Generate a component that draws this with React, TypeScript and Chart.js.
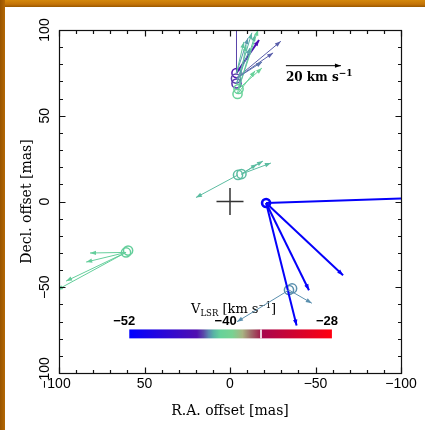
import React, { useEffect, useRef } from "react";
import { Chart, registerables } from "chart.js";

Chart.register(...registerables);

// ---------- axes ----------
const AXIS_MIN = -100;
const AXIS_MAX = 100;
const MAJOR_TICKS = [-100, -50, 0, 50, 100];
const MINOR_TICKS = [-90, -80, -70, -60, -40, -30, -20, -10, 10, 20, 30, 40, 60, 70, 80, 90];
const X_TITLE = "R.A. offset [mas]";
const Y_TITLE = "Decl. offset [mas]";

// ---------- reference position (cross) ----------
const REF_RA = [0];
const REF_DEC = [0];

// ---------- maser spots (mas, km/s) ----------
const SPOT_RA = [-21.1, -34.5, -36.3, -4.7, -6.7, 60.8, 59.6, -3.8, -3.5, -3.8, -5.0, -4.4];
const SPOT_DEC = [-0.9, -51.6, -50.7, 15.5, 16.0, -29.7, -28.6, 74.9, 71.7, 68.8, 65.6, 62.7];
const SPOT_VLSR = [-51.5, -42.5, -42.5, -41.8, -41.8, -41.3, -41.3, -44.0, -43.3, -43.6, -41.2, -41.0];

// ---------- proper motions: start (mas), velocity (km/s), VLSR ----------
const PM_RA = [
  -21.1, -21.1, -21.1, -21.1,
  -34.5, -34.5,
  -4.7, -6.7, -6.7, -6.7,
  60.8, 60.8, 60.8, 60.8,
  -3.8, -3.8, -3.5, -3.5, -5.0, -3.8, -5.0, -3.8, -4.4, -5.0, -4.4, -3.5, -3.8, -3.8,
];
const PM_DEC = [
  -0.9, -0.9, -0.9, -0.9,
  -51.6, -51.6,
  15.5, 16.0, 16.0, 16.0,
  -29.7, -29.7, -29.7, -29.7,
  74.9, 74.9, 71.7, 71.7, 65.6, 68.8, 65.6, 74.9, 62.7, 65.6, 62.7, 71.7, 68.8, 74.9,
];
const PM_VRA = [
  -60.0, -28.0, -15.6, -11.1,
  18.9, -8.3,
  15.3, -7.8, -10.7, -5.6,
  13.1, 14.5, 21.8, 25.1,
  0.0, -8.2, -16.3, -13.5, -7.1, -5.6, -6.0, -4.2, -3.1, -8.5, -6.4, -9.5, -4.9, -2.7,
];
const PM_VDEC = [
  2.0, -26.2, -31.6, -44.4,
  -11.5, -4.8,
  -8.2, 4.7, 4.0, 3.6,
  -0.2, -3.5, -10.4, -13.6,
  21.1, 12.0, 13.5, 9.3, 21.5, 18.4, 19.6, 12.7, 17.8, 7.6, 8.4, 6.0, 12.9, 11.3,
];
const PM_VLSR = [
  -51.5, -51.5, -51.5, -51.5,
  -42.5, -42.5,
  -41.8, -41.8, -41.8, -41.8,
  -41.3, -41.3, -41.3, -41.3,
  -43.3, -44.2, -43.0, -43.0, -41.2, -42.0, -41.8, -42.4, -41.5, -41.0, -41.2, -42.8, -42.2, -41.6,
];

// ---------- velocity scale bar ----------
const SCALE_KMS = [20];
const MAS_PER_KMS = 1.608;

// ---------- colour bar ----------
const CBAR_TICKS = [-52, -40, -28];
const CMAP_VLSR = [-52, -48, -44, -43.2, -42.6, -42, -41.2, -39.8, -38.6, -37.6, -36.6, -36.2, -28];
const CMAP_HEX = ["#0000ff", "#2a06d8", "#5010b0", "#5a4aa8", "#5a88b0", "#58b4a4", "#66d29a", "#78d292", "#a8b482", "#a06a6a", "#a02850", "#a8064c", "#ff0010"];
const CBAR_GAP = -36.4;

// layout constants (in data coordinates)
const SCALE_POS = { ra: -32.7, dec: 79.2 };
const CBAR_POS = { raLeft: 58.9, raRight: -59.6, decTop: -74.6, decBottom: -79.8 };

const SANS = "'Liberation Sans', Arial, sans-serif";
const SERIF = "'DejaVu Serif', serif";

function hexRgb(h: string) {
  const n = parseInt(h.slice(1), 16);
  return [(n >> 16) & 255, (n >> 8) & 255, n & 255];
}
function vlsrColor(v: number) {
  if (v <= CMAP_VLSR[0]) return CMAP_HEX[0];
  for (let i = 0; i < CMAP_VLSR.length - 1; i++) {
    const a = CMAP_VLSR[i], b = CMAP_VLSR[i + 1];
    if (v >= a && v <= b) {
      const t = (v - a) / (b - a);
      const c1 = hexRgb(CMAP_HEX[i]), c2 = hexRgb(CMAP_HEX[i + 1]);
      const c = c1.map((x, k) => Math.round(x + (c2[k] - x) * t));
      return `rgb(${c[0]},${c[1]},${c[2]})`;
    }
  }
  return CMAP_HEX[CMAP_HEX.length - 1];
}
function fmt(v: number) {
  return v < 0 ? "\u2212" + Math.abs(v) : String(v);
}

type Part = { t: string; font: string; dy: number };
function drawRich(ctx: CanvasRenderingContext2D, parts: Part[], x: number, y: number, align: "left" | "center") {
  let w = 0;
  for (const p of parts) { ctx.font = p.font; w += ctx.measureText(p.t).width; }
  let cx = align === "center" ? x - w / 2 : x;
  ctx.textAlign = "left";
  ctx.textBaseline = "alphabetic";
  for (const p of parts) {
    ctx.font = p.font;
    ctx.fillText(p.t, cx, y + p.dy);
    cx += ctx.measureText(p.t).width;
  }
}

function drawArrow(ctx: CanvasRenderingContext2D, x0: number, y0: number, x1: number, y1: number, color: string, width: number) {
  ctx.strokeStyle = color;
  ctx.fillStyle = color;
  ctx.lineWidth = width;
  ctx.beginPath();
  ctx.moveTo(x0, y0);
  ctx.lineTo(x1, y1);
  ctx.stroke();
  const ang = Math.atan2(y1 - y0, x1 - x0);
  const L = 6, W = 2.2;
  const c = Math.cos(ang), s = Math.sin(ang);
  ctx.beginPath();
  ctx.moveTo(x1, y1);
  ctx.lineTo(x1 - L * c + W * s, y1 - L * s - W * c);
  ctx.lineTo(x1 - L * c - W * s, y1 - L * s + W * c);
  ctx.closePath();
  ctx.fill();
}

const overlayPlugin = {
  id: "overlay",
  beforeDatasetsDraw(chart: any) {
    const ctx: CanvasRenderingContext2D = chart.ctx;
    const xs = chart.scales.x, ys = chart.scales.y;
    // colour bar
    const xl = xs.getPixelForValue(CBAR_POS.raLeft);
    const xr = xs.getPixelForValue(CBAR_POS.raRight);
    const yt = ys.getPixelForValue(CBAR_POS.decTop);
    const yb = ys.getPixelForValue(CBAR_POS.decBottom);
    const vmin = CBAR_TICKS[0], vmax = CBAR_TICKS[CBAR_TICKS.length - 1];
    const vx = (v: number) => xl + ((v - vmin) / (vmax - vmin)) * (xr - xl);
    ctx.save();
    const g = ctx.createLinearGradient(xl, 0, xr, 0);
    CMAP_VLSR.forEach((v, i) => g.addColorStop((v - vmin) / (vmax - vmin), CMAP_HEX[i]));
    ctx.fillStyle = g;
    ctx.fillRect(xl, yt, xr - xl, yb - yt);
    ctx.fillStyle = "#ffffff";
    ctx.fillRect(vx(CBAR_GAP) - 0.8, yt, 1.6, yb - yt);
    ctx.fillStyle = "#000";
    ctx.font = `bold 13px ${SANS}`;
    ctx.textAlign = "center";
    ctx.textBaseline = "alphabetic";
    CBAR_TICKS.forEach((v) => ctx.fillText(fmt(v), vx(v) - 5, yt - 4));
    const f = `13px ${SERIF}`, fs = `8.5px ${SERIF}`;
    drawRich(ctx, [
      { t: "V", font: f, dy: 0 },
      { t: "LSR", font: fs, dy: 3 },
      { t: " [km s", font: f, dy: 0 },
      { t: "\u22121", font: fs, dy: -5 },
      { t: "]", font: f, dy: 0 },
    ], (xl + xr) / 2 + 3, yt - 16, "center");
    ctx.restore();
  },
  afterDatasetsDraw(chart: any) {
    const ctx: CanvasRenderingContext2D = chart.ctx;
    const xs = chart.scales.x, ys = chart.scales.y;
    const a = chart.chartArea;
    ctx.save();
    ctx.beginPath();
    ctx.rect(a.left, a.top, a.right - a.left, a.bottom - a.top);
    ctx.clip();
    for (let i = 0; i < PM_RA.length; i++) {
      const x0 = xs.getPixelForValue(PM_RA[i]);
      const y0 = ys.getPixelForValue(PM_DEC[i]);
      const x1 = xs.getPixelForValue(PM_RA[i] + PM_VRA[i] * MAS_PER_KMS);
      const y1 = ys.getPixelForValue(PM_DEC[i] + PM_VDEC[i] * MAS_PER_KMS);
      const w = PM_VLSR[i] <= -44 ? 2 : 1;
      drawArrow(ctx, x0, y0, x1, y1, vlsrColor(PM_VLSR[i]), w);
    }
    ctx.restore();

    // velocity scale bar
    ctx.save();
    const sx0 = xs.getPixelForValue(SCALE_POS.ra);
    const sx1 = xs.getPixelForValue(SCALE_POS.ra - SCALE_KMS[0] * MAS_PER_KMS);
    const sy = ys.getPixelForValue(SCALE_POS.dec);
    drawArrow(ctx, sx0, sy, sx1, sy, "#000", 1);
    ctx.fillStyle = "#000";
    drawRich(ctx, [
      { t: `${SCALE_KMS[0]} km s`, font: `bold 12px ${SERIF}`, dy: 0 },
      { t: "\u22121", font: `bold 9px ${SERIF}`, dy: -5 },
    ], sx0, sy + 15, "left");
    ctx.restore();
  },
  afterDraw(chart: any) {
    const ctx: CanvasRenderingContext2D = chart.ctx;
    const xs = chart.scales.x, ys = chart.scales.y;
    const a = chart.chartArea;
    ctx.save();
    ctx.strokeStyle = "#111";
    ctx.lineWidth = 1.2;
    const L = Math.round(a.left) + 0.5, R = Math.round(a.right) + 0.5;
    const T = Math.round(a.top) + 0.5, B = Math.round(a.bottom) + 0.5;
    ctx.strokeRect(L, T, R - L, B - T);
    ctx.beginPath();
    const tick = (vals: number[], len: number) => {
      for (const v of vals) {
        const x = Math.round(xs.getPixelForValue(v)) + 0.5;
        ctx.moveTo(x, B); ctx.lineTo(x, B - len);
        ctx.moveTo(x, T); ctx.lineTo(x, T + len);
        const y = Math.round(ys.getPixelForValue(v)) + 0.5;
        ctx.moveTo(L, y); ctx.lineTo(L + len, y);
        ctx.moveTo(R, y); ctx.lineTo(R - len, y);
      }
    };
    tick(MAJOR_TICKS, 6);
    tick(MINOR_TICKS, 3.5);
    ctx.stroke();
    ctx.restore();
  },
};

export default function App() {
  const ref = useRef<HTMLCanvasElement | null>(null);
  useEffect(() => {
    if (!ref.current) return;
    const tickFont = { family: SANS, size: 14 };
    const titleFont = { family: SERIF, size: 14 };
    const chart = new Chart(ref.current, {
      type: "scatter",
      data: {
        datasets: [
          {
            data: SPOT_RA.map((x, i) => ({ x, y: SPOT_DEC[i] })),
            pointStyle: "circle",
            pointRadius: (c: any) => (SPOT_VLSR[c.dataIndex] <= -50 ? 4 : 4.6),
            pointBorderWidth: (c: any) => (SPOT_VLSR[c.dataIndex] <= -50 ? 2.6 : 1.5),
            pointBorderColor: (c: any) => vlsrColor(SPOT_VLSR[c.dataIndex]),
            pointBackgroundColor: "rgba(0,0,0,0)",
            showLine: false,
          } as any,
          {
            data: REF_RA.map((x, i) => ({ x, y: REF_DEC[i] })),
            pointStyle: "cross",
            pointRadius: 13.5,
            pointBorderWidth: 1.5,
            pointBorderColor: "#333",
            showLine: false,
          } as any,
        ],
      },
      options: {
        responsive: false,
        animation: false,
        events: [],
        layout: { padding: { top: 23, right: 24, left: 0, bottom: 0 } },
        plugins: { legend: { display: false }, tooltip: { enabled: false } },
        scales: {
          x: {
            type: "linear",
            min: AXIS_MIN,
            max: AXIS_MAX,
            reverse: true,
            position: "bottom",
            afterBuildTicks: (s: any) => { s.ticks = MAJOR_TICKS.map((v) => ({ value: v })); },
            afterFit: (s: any) => { s.height = 57; },
            grid: { display: false, drawTicks: false },
            border: { display: false },
            ticks: { autoSkip: false, maxRotation: 0, padding: 3, color: "#000", font: tickFont, callback: (v: any) => fmt(Number(v)) },
            title: { display: true, text: X_TITLE, color: "#000", font: titleFont, padding: { top: 0, bottom: 10.5 } },
          },
          y: {
            type: "linear",
            min: AXIS_MIN,
            max: AXIS_MAX,
            position: "left",
            afterBuildTicks: (s: any) => { s.ticks = MAJOR_TICKS.map((v) => ({ value: v })); },
            afterFit: (s: any) => { s.width = 54; },
            grid: { display: false, drawTicks: false },
            border: { display: false },
            ticks: { autoSkip: false, minRotation: 90, maxRotation: 90, crossAlign: "center", padding: -1.5, color: "#000", font: tickFont, callback: (v: any) => fmt(Number(v)) },
            title: { display: true, text: Y_TITLE, color: "#000", font: titleFont, padding: { top: 13.5, bottom: 0 } },
          },
        },
      } as any,
      plugins: [overlayPlugin as any],
    });
    return () => chart.destroy();
  }, []);

  return (
    <div style={{ position: "absolute", left: 0, top: 0, width: 425, height: 430, background: "#fff", overflow: "hidden" }}>
      <div style={{ position: "absolute", left: 0, top: 0, width: 425, height: 7, background: "linear-gradient(to bottom, #d4880c, #c47408 60%, #9a5800)" }} />
      <div style={{ position: "absolute", left: 0, top: 0, width: 5, height: 430, background: "linear-gradient(to right, #985400, #b46804)" }} />
      <canvas ref={ref} width={420} height={423} style={{ position: "absolute", left: 5, top: 7, width: 420, height: 423 }} />
    </div>
  );
}
